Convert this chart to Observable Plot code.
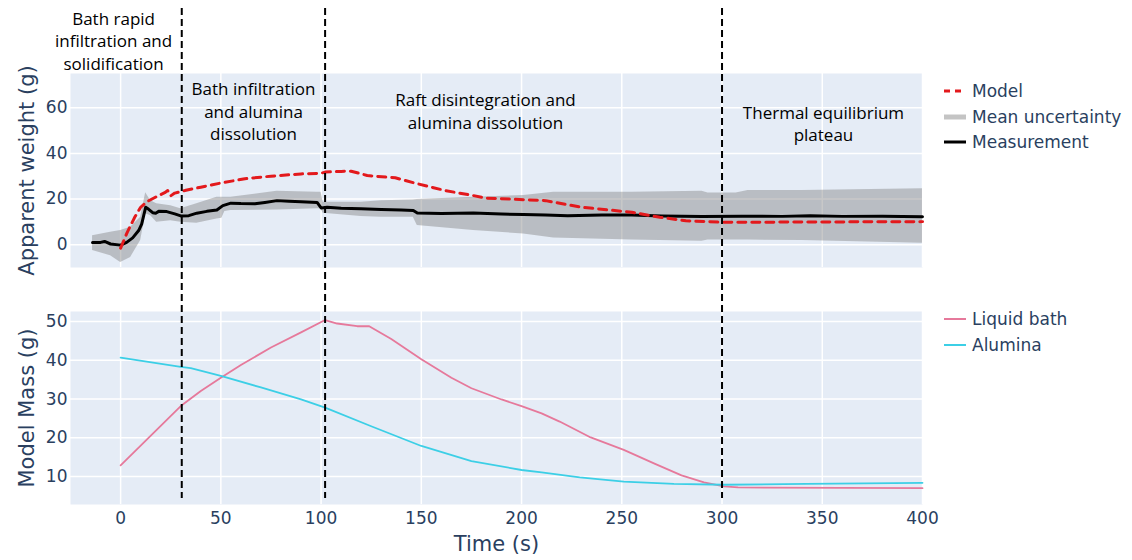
<!DOCTYPE html>
<html>
<head>
<meta charset="utf-8">
<script src="https://cdn.jsdelivr.net/npm/d3@7"></script>
<script src="https://cdn.jsdelivr.net/npm/@observablehq/plot@0.6"></script>
<style>
  body { margin: 0; background: #fff; }
  #chart { position: relative; width: 1132px; height: 560px; overflow: hidden; }
  #chart svg.panel { position: absolute; left: 0; }
  .legend-item { position: absolute; left: 944px; height: 24px; display: flex; align-items: center;
                 font: 17px "DejaVu Sans", sans-serif; color: #2a3f5f; white-space: nowrap; }
  .legend-item svg { margin-right: 6px; }
</style>
</head>
<body>
<div id="chart"></div>
<script>
// ---- Apparent weight (top panel) ----
const measTime   = [-14, -10, -8, -5, 0, 3, 6, 9, 10.5, 12.5, 14, 16, 17.5, 19, 23, 27, 30, 34, 38, 43, 48, 51, 55, 60, 67, 72, 78, 84, 90, 98, 100, 103, 110, 120, 130, 140, 146, 148, 160, 176, 190, 201, 212, 223, 240, 255, 270, 290, 310, 330, 344, 360, 380, 400];
const measWeight = [0.9, 1.0, 1.4, 0.3, -0.2, 1.0, 3.0, 6.2, 9.0, 16.4, 15.5, 14.0, 13.8, 14.6, 14.5, 13.5, 12.6, 12.7, 13.8, 14.6, 15.2, 17.1, 18.2, 18.0, 17.9, 18.5, 19.3, 19.0, 18.8, 18.5, 16.1, 16.4, 16.0, 15.7, 15.4, 15.2, 15.0, 13.9, 13.7, 13.9, 13.4, 13.2, 13.0, 12.7, 13.0, 13.0, 12.6, 12.3, 12.5, 12.4, 12.7, 12.4, 12.5, 12.2];

const bandTime = [-14, -5, 0, 5, 10, 12.5, 15, 18, 25, 30, 38, 48, 50.5, 52, 55, 78, 98, 100, 101, 120, 130, 146, 148, 176, 201, 216, 255, 290, 293, 307, 313, 340, 400];
const bandHigh = [3.9, 5.4, 6.2, 7.6, 12.0, 22.7, 19.3, 17.9, 17.1, 15.7, 17.9, 20.8, 20.8, 20.8, 20.8, 23.4, 23.0, 23.0, 18.6, 18.6, 19.3, 19.6, 19.8, 20.8, 21.5, 23.0, 23.0, 23.4, 22.6, 22.6, 23.7, 23.7, 24.5];
const bandLow  = [-2.6, -4.8, -7.8, -5.6, 1.8, 13.6, 12.7, 9.8, 10.5, 9.8, 9.4, 11.3, 11.6, 14.5, 15.0, 15.2, 15.7, 15.7, 13.8, 12.3, 12.0, 12.0, 8.4, 6.2, 4.7, 2.9, 2.0, 1.5, 2.0, 2.0, 2.0, 1.8, 0.6];

const modelTime   = [0, 3.3, 7, 10, 13, 18, 22, 23.5, 25, 27, 32, 40, 50, 62, 75, 90, 100, 102, 110, 115, 123, 137, 148, 162, 176, 182, 212, 230, 255, 269, 282, 300, 400];
const modelWeight = [-1.5, 5.4, 12.0, 16.4, 18.8, 21.1, 22.8, 23.7, 21.4, 22.6, 23.7, 25.2, 27.0, 28.9, 30.0, 31.0, 31.3, 31.8, 32.1, 32.2, 30.3, 29.3, 26.7, 23.7, 21.5, 20.4, 19.3, 16.4, 14.2, 12.0, 10.5, 9.8, 10.1];

// ---- Model mass (bottom panel) ----
const bathTime = [0, 30, 40, 50, 60, 75, 90, 102, 108, 118, 124, 135, 150, 165, 175, 190, 200, 210, 219, 234.5, 251, 266.6, 279.8, 291, 301, 308, 400];
const bathMass = [12.9, 28.2, 32.1, 35.5, 38.8, 43.3, 47.2, 50.4, 49.5, 48.8, 48.8, 45.5, 40.3, 35.5, 32.8, 29.9, 28.2, 26.3, 24.2, 20.1, 16.9, 13.3, 10.3, 8.5, 7.5, 7.2, 7.0];

const aluminaTime = [0, 30, 35, 50, 70, 90, 102, 125, 150, 175, 200, 210, 229, 251, 276, 301, 342, 400];
const aluminaMass = [40.7, 38.3, 38.0, 36.0, 33.0, 29.9, 27.8, 23.0, 17.9, 14.0, 11.7, 11.1, 9.8, 8.7, 8.1, 7.9, 8.1, 8.4];

// ---- Phase boundaries and their labels ----
const phaseBounds = [30.5, 102, 300];
const phaseNames = [
  "Bath rapid\ninfiltration and\nsolidification",
  "Bath infiltration\nand alumina\ndissolution",
  "Raft disintegration and\nalumina dissolution",
  "Thermal equilibrium\nplateau"
];

// ---- Axis ticks ----
const timeTicks   = [0, 50, 100, 150, 200, 250, 300, 350, 400];
const weightTicks = [0, 20, 40, 60];
const massTicks   = [10, 20, 30, 40, 50];

// ---- Styling ----
const INK = "#2a3f5f";
const PANEL_BG = "#E5ECF6";
const W = 1132, ML = 70, MR = 210;
const timeDomain = [-25, 400];
const baseStyle = {background: "transparent", color: INK, fontFamily: "DejaVu Sans, sans-serif", fontSize: "17px", overflow: "visible"};
const gridStyle = {stroke: "white", strokeOpacity: 1, strokeWidth: 1.5};

// label anchors (time, weight) for each phase caption
const notes = phaseNames.map((label, i) => ({
  label,
  t: [-3.5, 66.3, 182, 350.6][i],
  w: [89.6, 58.8, 58.8, 53.3][i]
}));

const chart = document.getElementById("chart");

const topPanel = Plot.plot({
  width: W, height: 311,
  marginLeft: ML, marginRight: MR, marginTop: 73, marginBottom: 44,
  x: {domain: timeDomain, axis: null},
  y: {domain: [-10, 75]},
  style: baseStyle,
  marks: [
    Plot.frame({fill: PANEL_BG, stroke: "none"}),
    Plot.gridX(timeTicks, gridStyle),
    Plot.gridY(weightTicks, gridStyle),
    Plot.axisY(weightTicks, {tickSize: 0, tickPadding: 3, label: null}),
    Plot.text(["Apparent weight (g)"], {frameAnchor: "left", textAnchor: "middle", rotate: -90, dx: -43, fontSize: 21, fill: INK}),
    Plot.areaY(bandTime, {x: bandTime, y1: bandLow, y2: bandHigh, fill: "#7f7f7f", fillOpacity: 0.43, curve: "linear"}),
    Plot.line(measTime, {x: measTime, y: measWeight, stroke: "black", strokeWidth: 3}),
    Plot.line(modelTime, {x: modelTime, y: modelWeight, stroke: "#e3191c", strokeWidth: 3, strokeDasharray: "8,6"}),
    Plot.text(notes, {x: "t", y: "w", text: "label", fontSize: 17, lineHeight: 1.32, fill: "black", fontFamily: "Open Sans, sans-serif"})
  ]
});
topPanel.classList.add("panel");
topPanel.style.top = "0px";
chart.appendChild(topPanel);

const bottomPanel = Plot.plot({
  width: W, height: 293,
  marginLeft: ML, marginRight: MR, marginTop: 44, marginBottom: 56,
  x: {domain: timeDomain},
  y: {domain: [2.8, 52.6]},
  style: baseStyle,
  marks: [
    Plot.frame({fill: PANEL_BG, stroke: "none"}),
    Plot.gridX(timeTicks, gridStyle),
    Plot.gridY(massTicks, gridStyle),
    Plot.axisY(massTicks, {tickSize: 0, tickPadding: 3, label: null}),
    Plot.axisX(timeTicks, {tickSize: 0, tickPadding: 7, label: null}),
    Plot.text(["Model Mass (g)"], {frameAnchor: "left", textAnchor: "middle", rotate: -90, dx: -43, fontSize: 21, fill: INK}),
    Plot.text(["Time (s)"], {frameAnchor: "bottom", dy: 46, fontSize: 21, fill: INK}),
    Plot.line(bathTime, {x: bathTime, y: bathMass, stroke: "#e6799b", strokeWidth: 1.8}),
    Plot.line(aluminaTime, {x: aluminaTime, y: aluminaMass, stroke: "#3ccfe6", strokeWidth: 1.8})
  ]
});
bottomPanel.classList.add("panel");
bottomPanel.style.top = "267px";
chart.appendChild(bottomPanel);

// dashed phase boundaries spanning both panels
const boundaryLayer = Plot.plot({
  width: W, height: 560,
  marginLeft: ML, marginRight: MR, marginTop: 8, marginBottom: 62,
  x: {domain: timeDomain, axis: null},
  style: {...baseStyle, pointerEvents: "none"},
  marks: [
    Plot.ruleX(phaseBounds, {stroke: "black", strokeWidth: 2, strokeDasharray: "7,4"})
  ]
});
boundaryLayer.classList.add("panel");
boundaryLayer.style.top = "0px";
chart.appendChild(boundaryLayer);

// legends
const legendItems = [
  {label: "Model", y: 91, stroke: "#e3191c", width: 3, dash: "6,5"},
  {label: "Mean uncertainty", y: 117, stroke: "#c4c4c4", width: 5, dash: null},
  {label: "Measurement", y: 142, stroke: "black", width: 3, dash: null},
  {label: "Liquid bath", y: 319, stroke: "#e6799b", width: 2, dash: null},
  {label: "Alumina", y: 345, stroke: "#3ccfe6", width: 2, dash: null}
];
for (const item of legendItems) {
  const div = document.createElement("div");
  div.className = "legend-item";
  div.style.top = (item.y - 12) + "px";
  const sw = d3.create("svg").attr("width", 22).attr("height", 24);
  sw.append("line").attr("x1", 0).attr("x2", 22).attr("y1", 12).attr("y2", 12)
    .attr("stroke", item.stroke).attr("stroke-width", item.width)
    .attr("stroke-dasharray", item.dash);
  div.appendChild(sw.node());
  div.appendChild(document.createTextNode(item.label));
  chart.appendChild(div);
}
</script>
</body>
</html>
